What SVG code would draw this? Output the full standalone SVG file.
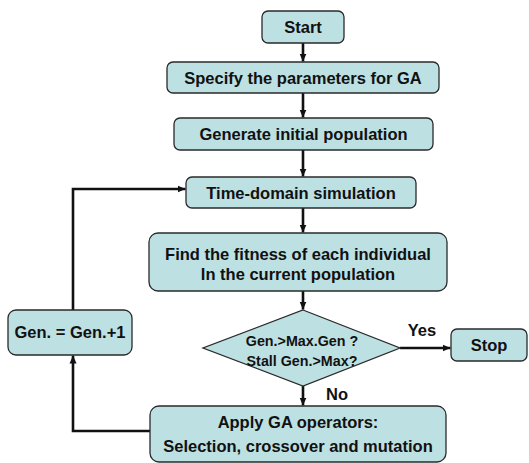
<svg xmlns="http://www.w3.org/2000/svg" width="529" height="463" viewBox="0 0 529 463">
<style>
.box{fill:#BDE0E3;stroke:#2a2a2a;stroke-width:1.3}
.t{font-family:"Liberation Sans",Arial,sans-serif;font-weight:bold;font-size:16.5px;fill:#111;text-anchor:middle}
.s{font-size:14.3px}
.c{fill:none;stroke:#111;stroke-width:2.6}
</style>
<defs>
<marker id="ah" markerUnits="userSpaceOnUse" markerWidth="9" markerHeight="8" refX="8" refY="4" orient="auto">
<path d="M0,0.5 L8,4 L0,7.5 z" fill="#111"/>
</marker>
</defs>
<rect width="529" height="463" fill="#fff"/>
<g id="connectors">
<line class="c" x1="303" y1="43" x2="303" y2="61.5" marker-end="url(#ah)"/>
<line class="c" x1="303" y1="93" x2="303" y2="117.5" marker-end="url(#ah)"/>
<line class="c" x1="303" y1="150" x2="303" y2="176.5" marker-end="url(#ah)"/>
<line class="c" x1="303" y1="208" x2="303" y2="232.5" marker-end="url(#ah)"/>
<line class="c" x1="303" y1="291" x2="303" y2="309.5" marker-end="url(#ah)"/>
<line class="c" x1="303" y1="386" x2="303" y2="405.5" marker-end="url(#ah)"/>
<line class="c" x1="400" y1="348" x2="450.5" y2="348" marker-end="url(#ah)"/>
<polyline class="c" points="150,431 73,431 73,355.5" marker-end="url(#ah)"/>
<polyline class="c" points="73,310 73,189 185.5,189" marker-end="url(#ah)"/>
<text class="t" x="422" y="336">Yes</text>
<text class="t" x="337" y="400">No</text>
</g>
<g id="start">
<rect class="box" x="262" y="11" width="82" height="32" rx="6"/>
<text class="t" x="303" y="33">Start</text>
</g>
<g id="specify">
<rect class="box" x="167" y="62" width="272" height="31" rx="6"/>
<text class="t" x="303" y="83.5">Specify the parameters for GA</text>
</g>
<g id="generate">
<rect class="box" x="174" y="118" width="259" height="32" rx="6"/>
<text class="t" x="303.5" y="140">Generate initial population</text>
</g>
<g id="timesim">
<rect class="box" x="186" y="177" width="230" height="31" rx="6"/>
<text class="t" x="301" y="198.5">Time-domain simulation</text>
</g>
<g id="fitness">
<rect class="box" x="149" y="233" width="298" height="58" rx="9"/>
<text class="t" x="298" y="260">Find the fitness of each individual</text>
<text class="t" x="298" y="280">In the current population</text>
</g>
<g id="decision">
<polygon class="box" points="303,310 400,348 303,386 203,348"/>
<text class="t s" x="302" y="346">Gen.&gt;Max.Gen ?</text>
<text class="t s" x="302" y="366">Stall Gen.&gt;Max?</text>
</g>
<g id="stop">
<rect class="box" x="451" y="329" width="76" height="32" rx="6"/>
<text class="t" x="489" y="351">Stop</text>
</g>
<g id="gen">
<rect class="box" x="8" y="310" width="124" height="45" rx="8"/>
<text class="t" x="70" y="338">Gen. = Gen.+1</text>
</g>
<g id="apply">
<rect class="box" x="150" y="406" width="296" height="56" rx="9"/>
<text class="t" x="298" y="428">Apply GA operators:</text>
<text class="t" x="298" y="452">Selection, crossover and mutation</text>
</g>
</svg>
